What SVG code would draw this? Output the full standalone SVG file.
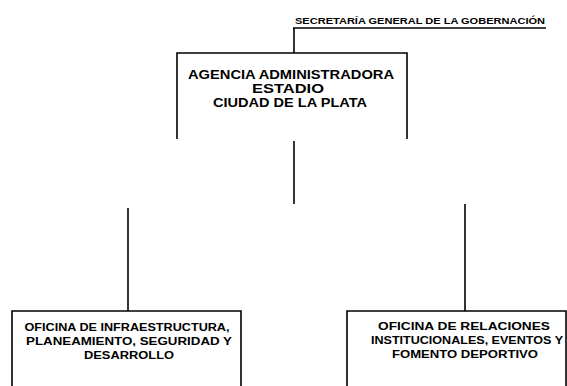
<svg xmlns="http://www.w3.org/2000/svg" width="567" height="386" viewBox="0 0 567 386">
<style>
.box{fill:none;stroke:#000;stroke-width:1.6}
.ln{fill:none;stroke:#000;stroke-width:1.6}
.t{font-family:"Liberation Sans",Arial,sans-serif;font-weight:bold;fill:#000;text-anchor:middle}
</style>
<rect width="567" height="386" fill="#fff"/>
<g id="connectors">
<path class="ln" d="M294 28 V53"/>
<path class="ln" d="M294 141 V204"/>
<path class="ln" d="M128 208 V311"/>
<path class="ln" d="M465 204 V311"/>
</g>
<g id="secretaria">
<text class="t" x="420" y="24" font-size="9.5" textLength="250" lengthAdjust="spacingAndGlyphs">SECRETARÍA GENERAL DE LA GOBERNACIÓN</text>
<path class="ln" d="M293 28 H546"/>
</g>
<g id="agencia">
<path class="box" d="M177 139 V53 H407 V139"/>
<text class="t" x="291" y="79" font-size="12.5" textLength="206" lengthAdjust="spacingAndGlyphs">AGENCIA ADMINISTRADORA</text>
<text class="t" x="288" y="93" font-size="12.5" textLength="72" lengthAdjust="spacingAndGlyphs">ESTADIO</text>
<text class="t" x="290" y="107" font-size="12.5" textLength="154" lengthAdjust="spacingAndGlyphs">CIUDAD DE LA PLATA</text>
</g>
<g id="oficina-infraestructura">
<path class="box" d="M12 390 V311 H241 V390"/>
<text class="t" x="127" y="331" font-size="10.5" textLength="205" lengthAdjust="spacingAndGlyphs">OFICINA DE INFRAESTRUCTURA,</text>
<text class="t" x="129" y="345" font-size="10.5" textLength="206" lengthAdjust="spacingAndGlyphs">PLANEAMIENTO, SEGURIDAD Y</text>
<text class="t" x="129" y="359" font-size="10.5" textLength="90" lengthAdjust="spacingAndGlyphs">DESARROLLO</text>
</g>
<g id="oficina-relaciones">
<path class="box" d="M347 390 V311 H566 V390"/>
<text class="t" x="464" y="330" font-size="10.5" textLength="172" lengthAdjust="spacingAndGlyphs">OFICINA DE RELACIONES</text>
<text class="t" x="467" y="344" font-size="11.5" textLength="192" lengthAdjust="spacingAndGlyphs">INSTITUCIONALES, EVENTOS Y</text>
<text class="t" x="465" y="358" font-size="10.5" textLength="146" lengthAdjust="spacingAndGlyphs">FOMENTO DEPORTIVO</text>
</g>
</svg>
